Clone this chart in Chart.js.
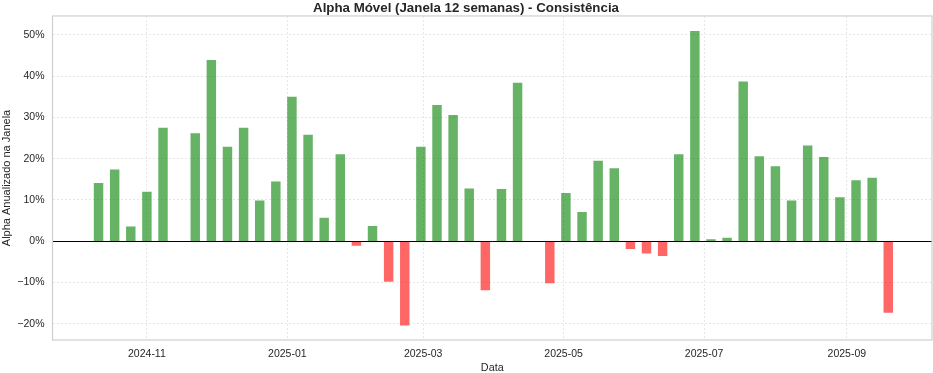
<!DOCTYPE html>
<html>
<head>
<meta charset="utf-8">
<script src="https://cdn.jsdelivr.net/npm/chart.js@4/dist/chart.umd.min.js"></script>
<style>
html,body{margin:0;padding:0;background:#fff;}
canvas{display:block;}
</style>
</head>
<body>
<canvas id="c" width="933" height="373"></canvas>
<script>
// ---- data (weekly rolling alpha, % annualized) ----
const dates = [
  '2024-10-11','2024-10-18','2024-10-25','2024-11-01','2024-11-08',
  '2024-11-22','2024-11-29','2024-12-06','2024-12-13','2024-12-20','2024-12-27',
  '2025-01-03','2025-01-10','2025-01-17','2025-01-24','2025-01-31',
  '2025-02-07','2025-02-14','2025-02-21','2025-02-28',
  '2025-03-07','2025-03-14','2025-03-21','2025-03-28',
  '2025-04-04','2025-04-11','2025-04-25',
  '2025-05-02','2025-05-09','2025-05-16','2025-05-23','2025-05-30',
  '2025-06-06','2025-06-13','2025-06-20','2025-06-27',
  '2025-07-04','2025-07-11','2025-07-18','2025-07-25',
  '2025-08-01','2025-08-08','2025-08-15','2025-08-22','2025-08-29',
  '2025-09-05','2025-09-12','2025-09-19'
];
const alphaValues = [
  14.0, 17.3, 3.5, 11.9, 27.4,
  26.1, 43.8, 22.8, 27.4, 9.8, 14.4,
  34.9, 25.7, 5.6, 21.0, -1.0,
  3.6, -9.7, -20.3, 22.8,
  32.9, 30.5, 12.7, -11.8,
  12.6, 38.3, -10.1,
  11.6, 7.0, 19.4, 17.6, -1.8,
  -2.9, -3.5, 21.0, 50.8,
  0.4, 0.8, 38.6, 20.5,
  18.1, 9.8, 23.1, 20.3, 10.6,
  14.7, 15.3, -17.2
];
const xTickDates  = ['2024-11-01','2025-01-01','2025-03-01','2025-05-01','2025-07-01','2025-09-01'];
const xTickLabels = ['2024-11','2025-01','2025-03','2025-05','2025-07','2025-09'];
const yTickValues = [-20,-10,0,10,20,30,40,50];
const xLimits = ['2024-09-21','2025-10-08'];
const yLimits = [-23.9, 54.55];

const toDay = s => Date.parse(s + 'T00:00:00Z') / 86400000;
const points = dates.map((d,i) => ({x: toDay(d), y: alphaValues[i]}));

const GREEN = 'rgba(0,128,0,0.6)';
const RED = 'rgba(255,0,0,0.6)';
const TXT = '#262626';
const FONT = "'Liberation Sans', Arial, sans-serif";
const GRID = 'rgba(200,200,200,0.45)';

const framePlugin = {
  id: 'frame',
  afterDatasetsDraw(chart){
    const {ctx, chartArea:a, scales:{y}} = chart;
    ctx.save();
    const py = Math.round(y.getPixelForValue(0)) + 0.5;
    ctx.strokeStyle = '#000';
    ctx.lineWidth = 1;
    ctx.beginPath(); ctx.moveTo(a.left, py); ctx.lineTo(a.right, py); ctx.stroke();
    ctx.strokeStyle = '#cfcfcf';
    ctx.lineWidth = 1.2;
    ctx.strokeRect(a.left, a.top, a.right - a.left, a.bottom - a.top);
    ctx.restore();
  }
};

new Chart(document.getElementById('c'), {
  type: 'bar',
  data: {
    datasets: [{
      data: points,
      backgroundColor: ctx => (ctx.raw && ctx.raw.y >= 0) ? GREEN : RED,
      borderWidth: 0,
      barThickness: 8.8
    }]
  },
  options: {
    responsive: false,
    animation: false,
    devicePixelRatio: 1,
    layout: { padding: { top: 0, right: 1, bottom: 0, left: 0 } },
    plugins: {
      legend: { display: false },
      tooltip: { enabled: false },
      title: {
        display: true,
        text: 'Alpha Móvel (Janela 12 semanas) - Consistência',
        color: TXT,
        font: { family: FONT, size: 13.3, weight: 'bold', lineHeight: 1.2 },
        padding: { top: 0, bottom: 0 }
      }
    },
    scales: {
      x: {
        type: 'linear',
        offset: false,
        min: toDay(xLimits[0]),
        max: toDay(xLimits[1]),
        afterBuildTicks: s => { s.ticks = xTickDates.map(d => ({value: toDay(d)})); },
        afterFit: s => { s.height = 33; },
        ticks: {
          color: TXT,
          font: { family: FONT, size: 10.5 },
          padding: 8,
          maxRotation: 0,
          autoSkip: false,
          callback: (v) => { const i = xTickDates.findIndex(d => toDay(d) === v); return i >= 0 ? xTickLabels[i] : ''; }
        },
        grid: { offset: false, color: GRID, lineWidth: 1, drawTicks: false },
        border: { display: false, dash: [2,2] },
        title: {
          display: true, text: 'Data', color: TXT,
          font: { family: FONT, size: 10.8, lineHeight: 0.9 },
          padding: { top: 3, bottom: 0 }
        }
      },
      y: {
        min: yLimits[0],
        max: yLimits[1],
        afterBuildTicks: s => { s.ticks = yTickValues.map(v => ({value: v})); },
        afterFit: s => { s.width = 52.5; },
        ticks: {
          color: TXT,
          font: { family: FONT, size: 10.5 },
          padding: 8,
          callback: v => (v < 0 ? '\u2212' + Math.abs(v) : v) + '%'
        },
        grid: { offset: false, color: GRID, lineWidth: 1, drawTicks: false },
        border: { display: false, dash: [2,2] },
        title: {
          display: true, text: 'Alpha Anualizado na Janela', color: TXT,
          font: { family: FONT, size: 11 },
          padding: { top: 0, bottom: 0 }
        }
      }
    }
  },
  plugins: [framePlugin]
});
</script>
</body>
</html>
